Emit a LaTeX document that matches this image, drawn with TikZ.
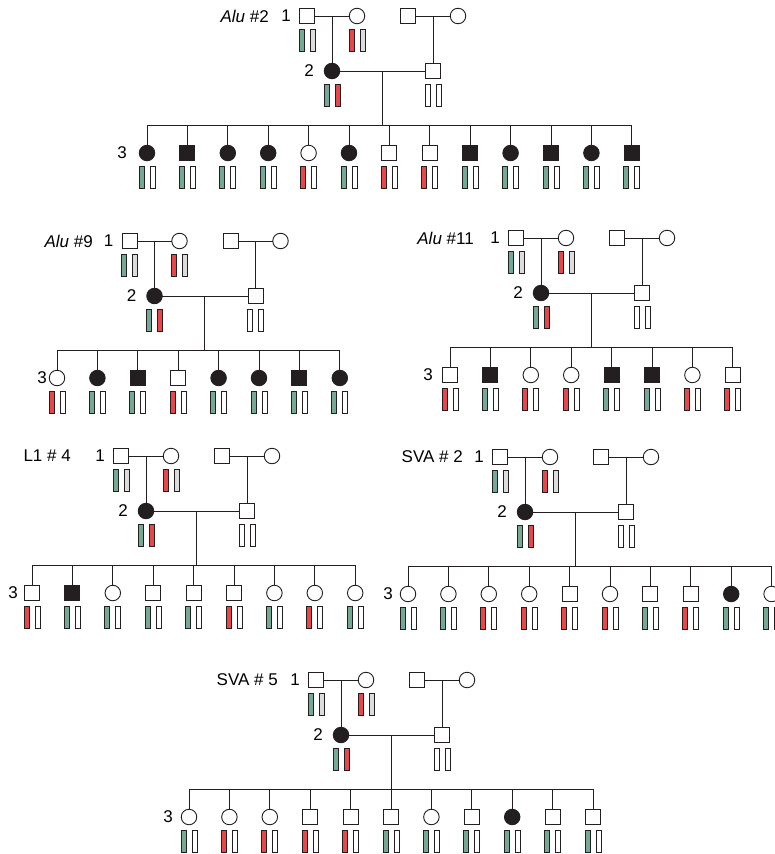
\documentclass[tikz,border=0pt]{standalone}
\usepackage{fontspec}
\setmainfont{Liberation Sans}
\definecolor{barG}{HTML}{74AA94}
\definecolor{barR}{HTML}{E8474A}
\definecolor{barY}{HTML}{DCDCDC}
\definecolor{ink}{HTML}{231F20}
\tikzset{
 ln/.style={draw=ink, line width=1pt},
 symbase/.style={draw=ink, line width=0.9pt, inner sep=0pt, outer sep=0pt},
 symos/.style={symbase, rectangle, minimum size=15pt, fill=white},
 symfs/.style={symbase, rectangle, minimum size=15pt, fill=ink},
 symoc/.style={symbase, circle, minimum size=15.5pt, fill=white},
 symfc/.style={symbase, circle, minimum size=15.5pt, fill=ink},
 bar/.style={draw=ink, line width=1pt, rectangle, inner sep=0pt, outer sep=0pt, minimum width=5pt, minimum height=22.5pt},
 lab/.style={inner sep=0pt, font=\fontsize{17}{19}\selectfont},
}
% #1 prefix, #2 ox, #3 oy, #4 title east x, #5 title, #6 first child x, #7 "3" x, #8 children
\newcommand\pedigree[8]{%
 \node[symos] (#1a) at (#2,#3) {};
 \node[symoc] (#1b) at (#2+50,#3) {};
 \node[symos] (#1c) at (#2+101,#3) {};
 \node[symoc] (#1d) at (#2+151,#3) {};
 \node[symfc] (#1e) at (#2+25,#3+55) {};
 \node[symos] (#1f) at (#2+126,#3+55) {};
 \node[lab,anchor=east] (#1t) at (#4,#3) {#5};
 \node[lab,anchor=east] (#1na) at (#2-16,#3) {1};
 \node[lab] (#1nb) at (#2+2,#3+55) {2};
 \node[lab] (#1nc) at (#7,#3+137) {3};
 \node[bar,fill=barG] (#1al) at (#2-5.5,#3+24.5) {};
 \node[bar,fill=barY] (#1ar) at (#2+5.5,#3+24.5) {};
 \node[bar,fill=barR] (#1bl) at (#2+44.5,#3+24.5) {};
 \node[bar,fill=barY] (#1br) at (#2+55.5,#3+24.5) {};
 \node[bar,fill=barG] (#1el) at (#2+19.5,#3+79.5) {};
 \node[bar,fill=barR] (#1er) at (#2+30.5,#3+79.5) {};
 \node[bar,fill=white] (#1fl) at (#2+120.5,#3+79.5) {};
 \node[bar,fill=white] (#1fr) at (#2+131.5,#3+79.5) {};
 \draw[ln] (#1a) -- (#1b);
 \draw[ln] (#1c) -- (#1d);
 \draw[ln] (#1e) -- (#1f);
 \draw[ln] (#1e.north) -- (#1e |- #1a);
 \draw[ln] (#1f.north) -- (#1f |- #1c);
 \coordinate (#1s) at (#2+75,#3+109);
 \draw[ln] (#1s) -- (#1s |- #1e);
 \foreach \kt/\kc [count=\i] in {#8} {
   \pgfmathsetmacro\cx{#6+(\i-1)*40.4}
   \node[sym\kt] (#1k\i) at (\cx,#3+137) {};
   \node[bar,fill=bar\kc] (#1k\i l) at (\cx-5.5,#3+161.5) {};
   \node[bar,fill=white] (#1k\i r) at (\cx+5.5,#3+161.5) {};
   \draw[ln] (#1k\i.north) -- (#1k\i |- #1s);
   \xdef\lastk{\i}
 }
 \draw[ln] (#1k1 |- #1s) -- (#1k\lastk |- #1s);
}
\begin{document}
\begin{tikzpicture}[x=1pt,y=-1pt]
\useasboundingbox (0,0) rectangle (774,854);
\fill[white] (0,0) rectangle (774,854);
\pedigree{P1}{307}{16}{269}{\textit{Alu} \#2}{147}{122}{fc/G,fs/G,fc/G,fc/G,oc/R,fc/G,os/R,os/R,fs/G,fc/G,fs/G,fc/G,fs/G}
\pedigree{P2}{129.5}{241}{93}{\textit{Alu} \#9}{57}{42}{oc/R,fc/G,fs/G,os/R,fc/G,fc/G,fs/G,fc/G}
\pedigree{P3}{516}{238}{474}{\textit{Alu} \#11}{450}{428}{os/R,fs/G,oc/R,oc/R,fs/G,fs/G,oc/R,os/R}
\pedigree{P4}{121}{456}{71}{L1 \# 4}{32}{13}{os/R,fs/G,oc/G,os/G,os/G,os/R,oc/G,oc/R,oc/G}
\pedigree{P5}{500}{457}{463}{SVA \# 2}{408}{388}{oc/G,oc/G,oc/R,oc/R,os/R,oc/R,os/G,os/R,fc/G,oc/G}
\pedigree{P6}{316}{680}{278}{SVA \# 5}{189}{168}{oc/G,oc/R,oc/R,os/R,os/R,os/G,oc/G,os/G,fc/G,os/G,os/G}
\end{tikzpicture}
\end{document}
